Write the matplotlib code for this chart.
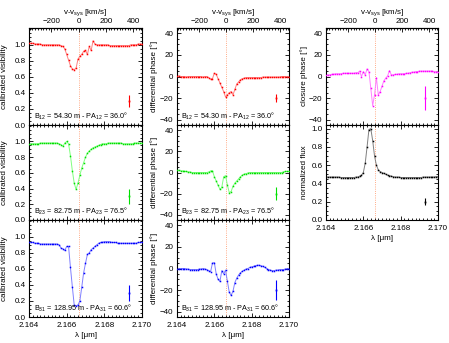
import matplotlib
matplotlib.use('Agg')
import matplotlib.pyplot as plt
from matplotlib.ticker import MultipleLocator, FormatStrFormatter

plt.rcParams['font.family'] = ['Liberation Sans', 'DejaVu Sans']
plt.rcParams['font.size'] = 5.8
plt.rcParams['mathtext.fontset'] = 'custom'
plt.rcParams['mathtext.rm'] = 'Liberation Sans'
plt.rcParams['mathtext.it'] = 'Liberation Sans:italic'

# wavelength grid [micron]
wl = [2.1640, 2.1641, 2.1642, 2.1643, 2.1644, 2.1645, 2.1646, 2.1647, 2.1648, 2.1649,
      2.1650, 2.1651, 2.1652, 2.1653, 2.1654, 2.1655, 2.1656, 2.1657, 2.1658, 2.1659,
      2.1660, 2.1661, 2.1662, 2.1663, 2.1664, 2.1665, 2.1666, 2.1667, 2.1668, 2.1669,
      2.1670, 2.1671, 2.1672, 2.1673, 2.1674, 2.1675, 2.1676, 2.1677, 2.1678, 2.1679,
      2.1680, 2.1681, 2.1682, 2.1683, 2.1684, 2.1685, 2.1686, 2.1687, 2.1688, 2.1689,
      2.1690, 2.1691, 2.1692, 2.1693, 2.1694, 2.1695, 2.1696, 2.1697, 2.1698, 2.1699,
      2.1700]

vis12 = [1.02, 1.02, 1.02, 1.01, 1.01, 1.01, 1.01, 1.00, 1.00, 1.00, 1.00, 1.00, 1.00, 1.00, 1.00,
         1.00, 1.00, 0.99, 0.98, 0.95, 0.88, 0.81, 0.74, 0.70, 0.69, 0.71, 0.82, 0.86, 0.88, 0.92,
         0.93, 0.88, 0.98, 0.93, 1.05, 1.01,
         1.00, 1.00, 1.00, 1.00, 1.00, 1.00, 1.00, 0.99, 0.99, 0.99, 0.99, 0.99, 0.99, 0.99, 0.99,
         0.99, 0.99, 0.99, 1.00, 1.00, 1.00, 1.00, 1.01, 1.01, 1.01]
vis23 = [0.97, 0.97, 0.97, 0.97, 0.97, 0.97, 0.98, 0.98, 0.98, 0.98, 0.98, 0.98, 0.98, 0.98, 0.98,
         0.98, 0.97,
         0.96, 0.94, 0.98, 1.00, 0.97, 0.82, 0.63, 0.47, 0.39, 0.47, 0.57, 0.66, 0.73, 0.80, 0.85,
         0.88, 0.90, 0.92, 0.93, 0.94, 0.95, 0.96,
         0.97, 0.97, 0.97, 0.98, 0.98, 0.98, 0.98, 0.98, 0.98, 0.98, 0.98, 0.97, 0.97, 0.97, 0.97,
         0.97, 0.97, 0.98, 0.98, 0.98, 0.98, 0.98]
vis31 = [0.93, 0.93, 0.93, 0.92, 0.92, 0.92, 0.91, 0.91, 0.91, 0.91, 0.91, 0.91, 0.91, 0.91, 0.91,
         0.91,
         0.90, 0.86, 0.85, 0.83, 0.88, 0.88, 0.62, 0.38, 0.15, 0.14, 0.15, 0.20, 0.37, 0.55, 0.67,
         0.78, 0.80, 0.84, 0.86, 0.88, 0.90, 0.92, 0.93,
         0.93, 0.94, 0.94, 0.94, 0.94, 0.93, 0.93, 0.93, 0.92, 0.92, 0.92, 0.92, 0.92, 0.92, 0.92,
         0.92, 0.92, 0.92, 0.92, 0.93, 0.93, 0.93]

phi12 = [0.5, 0.5, 0, 0, 0, -0.5, 0, 0, 0, 0, 0, 0, 0, 0, -0.5, 0, 0,
         -1, -2.5, -2, 3, 2, -2, -6, -10, -14, -19, -17, -15, -14, -17, -12, -7, -5, -3, -2, -1.5,
         -1, -1, -1, -1, -1, -1, -1, -1, -1, -0.5, -0.5, -0.5, -0.5, -0.5, -0.5, -0.5, -0.5, -0.5,
         -0.5, 0, 0, 0, 0, 0]
phi23 = [2, 2, 1.5, 1.5, 1, 1, 0.5, 0.5, 0, 0, 0, 0, 0, 0, 0, 0, 0,
         0.5, 1.5, 1.5, -4, -8, -12, -16, -14, -4, -3, -12, -19, -18, -13, -10, -8, -6, -4, -2.5,
         -1.5, -1, -0.5,
         0, 0, 0, 0, 0, 0, 0, 0, 0, 0, 0, 0, 0, 0, 0, 0, 0, 0, 0.5, 1, 1, 1]
phi31 = [0, 0, 0, 0, 0, -0.5, -0.5, -1, -1, -1, -1, -1, -0.5, -0.5, 0, -0.5, -1, -2, -3,
         5, 5.5, -5, -10, -12, -2, -5, -1.5, -12, -22, -25, -21, -13, -9, -6, -4, -2.5, -1.5,
         -0.5, 0,
         1, 1.5, 2, 2.5, 3, 3, 2.5, 2, 1, 0, -1, -1.5, -2, -2, -1.5, -1.5, -1, -1, -1, -0.5, 0, 0]

cphase = [1.5, 1.5, 1.5, 2, 2, 2.5, 2.5, 2.5, 2.5, 3, 3, 3, 3, 3, 3, 3, 3.5, 3.5,
          5, 0, 4.5, 1.5, 7, 4.5, -11, -27, -17, -1, -17, -14, -9, -4, -1.5, 0.5, 5.5,
          1.5, 1.5, 2, 2, 2.5, 2.5, 2.5, 2.5, 3, 3, 3.5, 4, 4, 4.5, 4.5, 5, 5, 5, 5, 5, 5, 5, 5,
          4.5, 4.5, 4.5]
flux = [0.47, 0.47, 0.47, 0.47, 0.47, 0.47, 0.47, 0.47, 0.465, 0.465, 0.465, 0.465, 0.465,
        0.465, 0.465, 0.465, 0.47, 0.47,
        0.48, 0.49, 0.52, 0.62, 0.80, 0.99, 1.0, 0.87, 0.70, 0.60, 0.55, 0.53, 0.52, 0.51, 0.50,
        0.49, 0.485, 0.48, 0.475,
        0.47, 0.47, 0.47, 0.465, 0.465, 0.465, 0.465, 0.465, 0.465, 0.465, 0.465, 0.465, 0.465,
        0.465, 0.465, 0.47, 0.47, 0.47, 0.47, 0.47, 0.47, 0.47, 0.475, 0.475]

# typical error bars drawn at the right of each panel
err_x = 2.1693
vis_err = [0.07, 0.09, 0.10]
phi_err = [4, 6, 9]
cp_err = 11
flux_err = 0.04

baselines = ['B$_{12}$ = 54.30 m - PA$_{12}$ = 36.0°',
             'B$_{23}$ = 82.75 m - PA$_{23}$ = 76.5°',
             'B$_{31}$ = 128.95 m - PA$_{31}$ = 60.6°']

lam0 = 2.16664
c_kms = 299792.458

pt_colors = ['#ff0000', '#00e000', '#0000ff']
ln_colors = ['#ff8080', '#80ff80', '#8080ff']


def lam2v(x):
    return (x - lam0) / lam0 * c_kms


def v2lam(v):
    return lam0 * (1 + v / c_kms)


fig = plt.figure(figsize=(4.49, 3.43), dpi=100)
W, H = 449.0, 343.0
rows = [(28, 125), (125, 220), (220, 317)]
cols = [(29, 142), (177, 289), (326, 438)]


def make_ax(col, row):
    x0, x1 = cols[col]
    y0, y1 = rows[row]
    return fig.add_axes([x0 / W, 1 - y1 / H, (x1 - x0) / W, (y1 - y0) / H])


def style(ax, row, last):
    ax.set_xlim(2.164, 2.170)
    ax.xaxis.set_major_locator(MultipleLocator(0.002))
    ax.xaxis.set_minor_locator(MultipleLocator(0.0002))
    ax.xaxis.set_major_formatter(FormatStrFormatter('%.3f'))
    for s in ax.spines.values():
        s.set_linewidth(0.8)
    ax.tick_params(which='both', direction='in', right=True, top=(row != 0),
                   labelbottom=last, width=0.6)
    ax.tick_params(axis='x', pad=3.5)
    ax.tick_params(axis='y', pad=2.5)
    ax.tick_params(which='major', length=3)
    ax.tick_params(which='minor', length=1.5)
    ax.axvline(lam0, color='#ff9060', ls=':', lw=0.6, zorder=0)
    if row == 0:
        sec = ax.secondary_xaxis('top', functions=(lam2v, v2lam))
        sec.set_xticks([-200, 0, 200, 400])
        sec.xaxis.set_minor_locator(MultipleLocator(20))
        sec.tick_params(which='both', direction='in', width=0.6, pad=2)
        sec.tick_params(which='major', length=3)
        sec.tick_params(which='minor', length=1.5)
        sec.set_xlabel('v-v$_{\\mathrm{sys}}$ [km/s]', labelpad=3)
    if last:
        ax.set_xlabel('λ [μm]', labelpad=2)


def draw(ax, y, pc, lc, ey, err):
    ax.plot(wl, y, '-', color=lc, lw=0.7, zorder=2)
    ax.plot(wl, y, 's', color=pc, ms=1.1, mew=0, zorder=3)
    ax.errorbar([err_x], [ey], yerr=[err], fmt='s', color=pc, ms=1.3, mew=0,
                elinewidth=0.8, capsize=0)


vis_all = [vis12, vis23, vis31]
phi_all = [phi12, phi23, phi31]

for r in range(3):
    # calibrated visibility
    ax = make_ax(0, r)
    draw(ax, vis_all[r], pt_colors[r], ln_colors[r], 0.3, vis_err[r])
    ax.set_ylim(0, 1.21)
    ax.set_yticks([0, 0.2, 0.4, 0.6, 0.8, 1.0])
    ax.yaxis.set_minor_locator(MultipleLocator(0.05))
    ax.yaxis.set_major_formatter(FormatStrFormatter('%.1f'))
    style(ax, r, r == 2)
    ax.set_ylabel('calibrated visibility')
    ax.yaxis.set_label_coords(-0.19, 0.5)
    ax.text(0.04, 0.09, baselines[r], transform=ax.transAxes, fontsize=5.2, va='center')

    # differential phase
    ax = make_ax(1, r)
    draw(ax, phi_all[r], pt_colors[r], ln_colors[r], -20, phi_err[r])
    ax.set_ylim(-45, 45)
    ax.set_yticks([-40, -20, 0, 20, 40])
    ax.yaxis.set_minor_locator(MultipleLocator(5))
    style(ax, r, r == 2)
    ax.set_ylabel('differential phase [°]')
    ax.yaxis.set_label_coords(-0.17, 0.5)
    ax.text(0.04, 0.09, baselines[r], transform=ax.transAxes, fontsize=5.2, va='center')

# closure phase
ax = make_ax(2, 0)
draw(ax, cphase, '#ff00ff', '#ff80ff', -20, cp_err)
ax.set_ylim(-45, 45)
ax.set_yticks([-40, -20, 0, 20, 40])
ax.yaxis.set_minor_locator(MultipleLocator(5))
style(ax, 0, False)
ax.set_ylabel('closure phase [°]')
ax.yaxis.set_label_coords(-0.16, 0.5)

# normalized flux
ax = make_ax(2, 1)
draw(ax, flux, '#000000', '#808080', 0.2, flux_err)
ax.set_ylim(0, 1.04)
ax.set_yticks([0, 0.2, 0.4, 0.6, 0.8, 1.0])
ax.yaxis.set_minor_locator(MultipleLocator(0.05))
ax.yaxis.set_major_formatter(FormatStrFormatter('%.1f'))
style(ax, 1, True)
ax.set_ylabel('normalized flux')
ax.yaxis.set_label_coords(-0.16, 0.5)

fig.savefig('out.png', dpi=100)
